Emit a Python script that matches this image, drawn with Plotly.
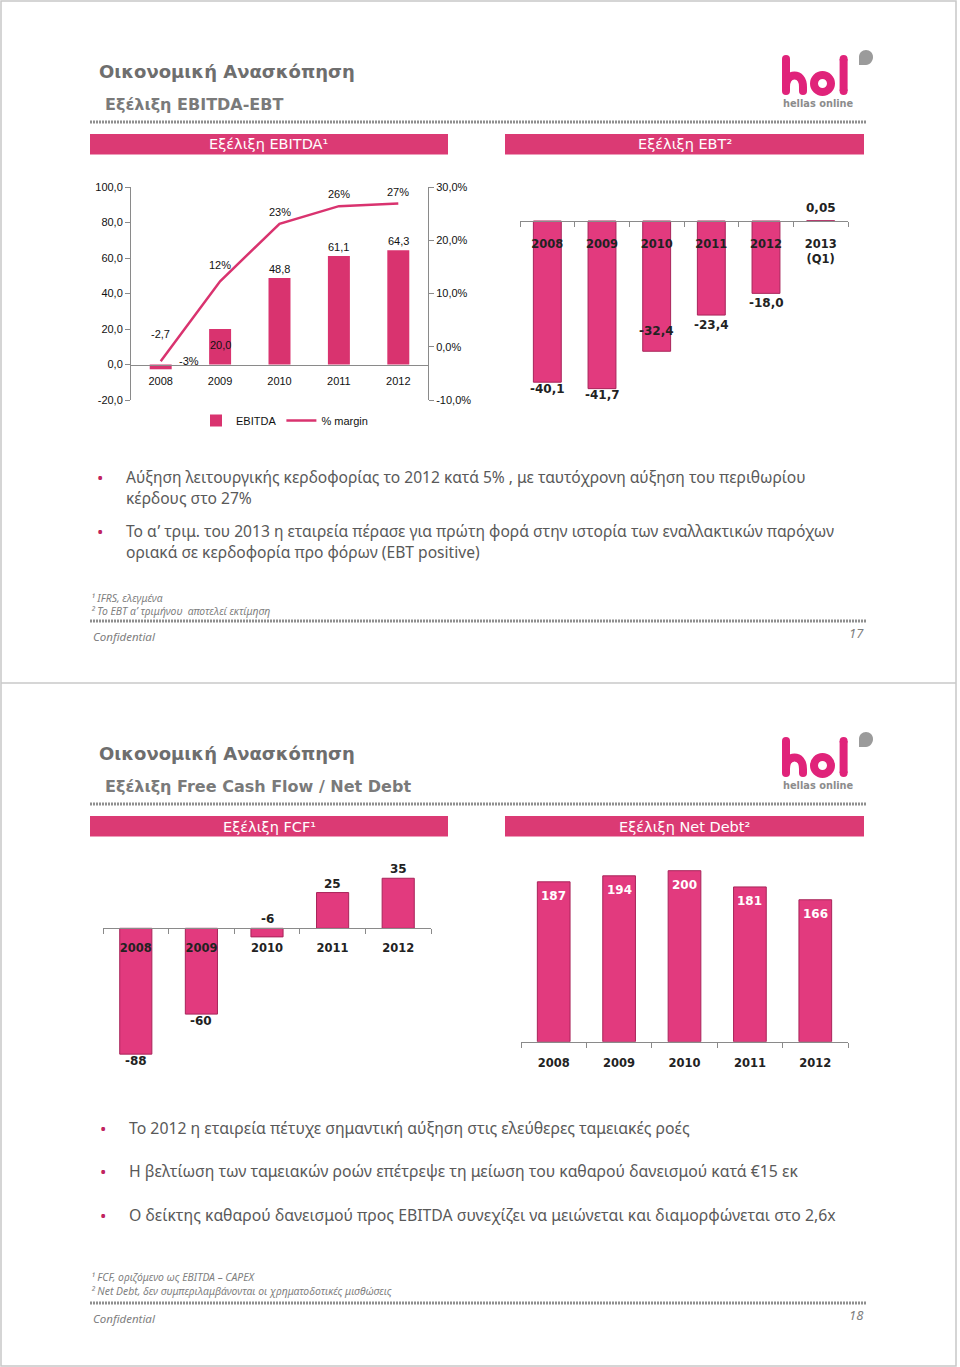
import plotly.graph_objects as go

W, H = 960, 1367
def X(px): return px / W
def Y(py): return 1 - py / H

# ---------------- data ----------------
years = ["2008", "2009", "2010", "2011", "2012"]
ebitda = [-2.7, 20.0, 48.8, 61.1, 64.3]
margin_pct = [-2.7, 12.3, 23.1, 26.4, 26.9]
ebt_cats = ["2008", "2009", "2010", "2011", "2012", "2013<br>(Q1)"]
ebt = [-40.1, -41.7, -32.4, -23.4, -18.0, 0.05]
fcf = [-88, -60, -6, 25, 35]
net_debt = [187, 194, 200, 181, 166]
ebitda_ticks = [-20, 0, 20, 40, 60, 80, 100]
margin_ticks = [-10, 0, 10, 20, 30]

# ---------------- styles ----------------
PINK = "#d9336f"
PINK3D = "#e23a7e"
PINKEDGE = "#a8245a"
GRAY = "#6e6e6e"
AXC = "#8a8a8a"
SANS = "Liberation Sans"
TAH = "DejaVu Sans"
BODY = "Noto Sans"

def c(v, nd=1):
    return f"{v:.{nd}f}".replace(".", ",")

fig = go.Figure()
ann = []
shapes = []

def txt(s, x, y, size, color, family, bold=False, italic=False, xanchor="left"):
    ann.append(dict(text=s, x=X(x), y=Y(y), xref="paper", yref="paper", showarrow=False,
                    xanchor=xanchor, yanchor="middle",
                    font=dict(size=size, color=color, family=family,
                              weight="bold" if bold else "normal",
                              style="italic" if italic else "normal")))

def zero_pos(dom, rng):
    return dom[0] + (0 - rng[0]) / (rng[1] - rng[0]) * (dom[1] - dom[0])

# ---------------- slide frames ----------------
shapes.append(dict(type="rect", xref="paper", yref="paper", x0=X(1), x1=X(956), y0=Y(1), y1=Y(1366),
                   line=dict(color="#c8c8c8", width=1.5), fillcolor="rgba(0,0,0,0)", layer="below"))
shapes.append(dict(type="line", xref="paper", yref="paper", x0=X(1), x1=X(956), y0=Y(683), y1=Y(683),
                   line=dict(color="#c8c8c8", width=1.5)))

def P(cmds):
    out = []
    for cmd, pts in cmds:
        out.append(cmd + " ".join(f"{X(a):.6f},{Y(b):.6f}" for a, b in pts))
    return " ".join(out)

def logo(dy):
    lc = "#e0237a"
    w = 8
    shapes.append(dict(type="path", xref="paper", yref="paper",
                       path=P([("M", [(786, 59 + dy)]), ("L", [(786, 91 + dy)])]), line=dict(color=lc, width=w)))
    shapes.append(dict(type="path", xref="paper", yref="paper",
                       path=P([("M", [(786, 87 + dy)]), ("C", [(786, 79 + dy), (790, 75.5 + dy), (794.5, 75.5 + dy)]),
                               ("C", [(799, 75.5 + dy), (803, 79 + dy), (803, 87 + dy)]), ("L", [(803, 91 + dy)])]),
                       line=dict(color=lc, width=w)))
    for (cx, cy) in [(786, 59), (786, 91), (803, 91), (843.6, 59), (843.6, 91)]:
        shapes.append(dict(type="circle", xref="paper", yref="paper", x0=X(cx - 4), x1=X(cx + 4),
                           y0=Y(cy + dy + 4), y1=Y(cy + dy - 4), fillcolor=lc, line=dict(width=0)))
    shapes.append(dict(type="circle", xref="paper", yref="paper", x0=X(822.5 - 8.5), x1=X(822.5 + 8.5),
                       y0=Y(83.5 + dy + 8.5), y1=Y(83.5 + dy - 8.5), line=dict(color=lc, width=w)))
    shapes.append(dict(type="path", xref="paper", yref="paper",
                       path=P([("M", [(843.6, 59 + dy)]), ("L", [(843.6, 91 + dy)])]), line=dict(color=lc, width=w)))
    shapes.append(dict(type="path", xref="paper", yref="paper",
                       path=P([("M", [(859, 65 + dy)]), ("L", [(859, 57 + dy)]),
                               ("C", [(859, 53 + dy), (862, 50 + dy), (866, 50 + dy)]),
                               ("C", [(870, 50 + dy), (873, 53 + dy), (873, 57 + dy)]),
                               ("C", [(873, 61 + dy), (870, 65 + dy), (866, 65 + dy)]), ("Z", [])]),
                       fillcolor="#9b9b9b", line=dict(width=0)))
    txt("hellas online", 818, 103.5 + dy, 9.8, "#8c8c8c", TAH, bold=True, xanchor="center")

def slide_frame(dy, title, subtitle, h1, h2, page, notes, notes_y):
    txt(title, 97, 72 + dy, 18, GRAY, TAH, bold=True)
    txt(subtitle, 103, 104 + dy, 16, "#7a7a7a", TAH, bold=True)
    for yy in (122 + dy, 621 + dy):
        shapes.append(dict(type="line", xref="paper", yref="paper", x0=X(90), x1=X(866), y0=Y(yy), y1=Y(yy),
                           line=dict(color="#8f8f8f", width=3, dash="2px,1px")))
    for (x0, x1, t) in [(90, 448, h1), (505, 864, h2)]:
        shapes.append(dict(type="rect", xref="paper", yref="paper", x0=X(x0), x1=X(x1), y0=Y(154.5 + dy),
                           y1=Y(134 + dy), fillcolor="#db3a74", line=dict(width=0)))
        txt(t, (x0 + x1) / 2, 144.5 + dy, 14.5, "white", TAH, xanchor="center")
    logo(dy)
    txt("Confidential", 91, 636 + dy, 11.5, "#808080", BODY, italic=True)
    txt(page, 866, 633 + dy, 13, "#808080", BODY, italic=True, xanchor="right")
    for n, yy in zip(notes, notes_y):
        txt(n, 89, yy, 10.4, "#808080", BODY, italic=True)

slide_frame(0, "Οικονομική Ανασκόπηση", "Εξέλιξη EBITDA-EBT", "Εξέλιξη EBITDA¹", "Εξέλιξη EBT²", "17",
            ["¹ IFRS, ελεγμένα", "² Το EBT α’ τριμήνου  αποτελεί εκτίμηση"], [598, 611])
slide_frame(682, "Οικονομική Ανασκόπηση", "Εξέλιξη Free Cash Flow / Net Debt", "Εξέλιξη FCF¹",
            "Εξέλιξη Net Debt²", "18",
            ["¹ FCF, οριζόμενο ως EBITDA – CAPEX", "² Net Debt, δεν συμπεριλαμβάνονται οι χρηματοδοτικές μισθώσεις"],
            [1277, 1291])

def bullet(lines, x_b, x_t, ys, size):
    txt("•", x_b, ys[0], 17, "#c0245f", BODY)
    for s, yy in zip(lines, ys):
        txt(s, x_t, yy, size, "#595959", BODY)

bullet(["Αύξηση λειτουργικής κερδοφορίας το 2012 κατά 5% , με ταυτόχρονη αύξηση του περιθωρίου",
        "κέρδους στο 27%"], 95, 124, [477, 498], 15.6)
bullet(["Το α’ τριμ. του 2013 η εταιρεία πέρασε για πρώτη φορά στην ιστορία των εναλλακτικών παρόχων",
        "οριακά σε κερδοφορία προ φόρων (EBT positive)"], 95, 124, [531, 552], 15.6)
bullet(["Το 2012 η εταιρεία πέτυχε σημαντική αύξηση στις ελεύθερες ταμειακές ροές"], 98, 127, [1128], 15.8)
bullet(["Η βελτίωση των ταμειακών ροών επέτρεψε τη μείωση του καθαρού δανεισμού κατά €15 εκ"], 98, 127, [1171], 15.8)
bullet(["Ο δείκτης καθαρού δανεισμού προς EBITDA συνεχίζει να μειώνεται και διαμορφώνεται στο 2,6x"], 98, 127, [1215], 15.8)

tickfont_plain = dict(size=11, color="#111", family=SANS)
tickfont_bold = dict(size=11.5, color="#222", family=TAH, weight="bold")

def cat_axis(dom, n, pos, font, standoff, boundary_ticks):
    ax = dict(domain=dom, anchor="free", position=pos, type="linear", range=[-0.5, n - 0.5],
              tickmode="array", tickvals=list(range(n)), showline=True, linecolor=AXC, linewidth=1,
              ticks="", tickfont=font, showgrid=False, zeroline=False, ticklabelstandoff=standoff,
              automargin=False, fixedrange=True)
    if boundary_ticks:
        ax["minor"] = dict(tickmode="array", tickvals=[i - 0.5 for i in range(n + 1)], ticks="outside",
                           ticklen=5, tickcolor=AXC, showgrid=False)
    return ax

# ---------------- chart 1: EBITDA ----------------
d1x = [X(131), X(428)]
d1y = [Y(400), Y(187)]
r1 = [-20, 100]
r1b = [-0.10, 0.30]
idx5 = list(range(len(years)))
fig.add_trace(go.Bar(x=idx5, y=ebitda, width=0.37, marker=dict(color=PINK, line=dict(width=0)),
                     name="EBITDA", xaxis="x", yaxis="y", showlegend=True))
fig.add_trace(go.Scatter(x=idx5, y=[v / 100 for v in margin_pct], mode="lines", line=dict(color=PINK, width=2.5),
                         name="% margin", xaxis="x", yaxis="y2", showlegend=True))
bar_shift = [35, -15.5, 9, 9, 9]
for i, (v, s) in enumerate(zip(ebitda, bar_shift)):
    ann.append(dict(text=c(v), x=i, y=v, xref="x", yref="y", showarrow=False, yshift=s, yanchor="middle",
                    font=dict(size=11, color="#111", family=SANS)))
m_yshift = [0, 16, 12, 12, 12]
m_xshift = [28, 0, 0, 0, 0]
for i, (v, s, sx) in enumerate(zip(margin_pct, m_yshift, m_xshift)):
    ann.append(dict(text=f"{v:.0f}%", x=i, y=v / 100, xref="x", yref="y2", showarrow=False, yshift=s, xshift=sx,
                    yanchor="middle", font=dict(size=11, color="#111", family=SANS)))

xa1 = cat_axis(d1x, len(years), zero_pos(d1y, r1), tickfont_plain, 6, False)
xa1["ticktext"] = years
layout_axes = dict(
    xaxis=xa1,
    yaxis=dict(domain=d1y, range=r1, tickmode="array", tickvals=ebitda_ticks,
               ticktext=[c(t) for t in ebitda_ticks], showline=True, linecolor=AXC, ticks="outside",
               ticklen=5, tickcolor=AXC, showgrid=False, zeroline=False, tickfont=tickfont_plain, anchor="x",
               automargin=False, fixedrange=True),
    yaxis2=dict(domain=d1y, range=r1b, tickmode="array", tickvals=[t / 100 for t in margin_ticks],
                ticktext=[c(t) + "%" for t in margin_ticks], overlaying="y", side="right", showline=True,
                linecolor=AXC, ticks="outside", ticklen=5, tickcolor=AXC, showgrid=False, zeroline=False,
                tickfont=tickfont_plain, anchor="x", automargin=False, fixedrange=True),
)

# ---------------- chart 2: EBT ----------------
d2x = [X(520), X(848)]
r2 = [-45, 8]
d2y = [Y(221 + 45 * 4.02), Y(221 - 8 * 4.02)]
idx6 = list(range(len(ebt_cats)))
fig.add_trace(go.Bar(x=idx6, y=ebt, width=0.51, marker=dict(color=PINK3D, line=dict(color=PINKEDGE, width=1)),
                     xaxis="x2", yaxis="y3", showlegend=False))
ebt_shift = [-7, -6, 20, -10, -10, 13]
for i, (v, s) in enumerate(zip(ebt, ebt_shift)):
    ann.append(dict(text=c(v, 2 if abs(v) < 1 else 1), x=i, y=v, xref="x2", yref="y3", showarrow=False,
                    yshift=s, yanchor="middle", font=dict(size=12, color="#222", family=TAH, weight="bold")))
xa2 = cat_axis(d2x, len(ebt_cats), zero_pos(d2y, r2), tickfont_bold, 12, True)
xa2["ticktext"] = ebt_cats
layout_axes.update(xaxis2=xa2, yaxis3=dict(domain=d2y, range=r2, visible=False, anchor="x2", fixedrange=True))

# ---------------- chart 3: FCF ----------------
d3x = [X(103), X(431)]
r3 = [-95, 45]
d3y = [Y(928.3 + 95 * 1.43), Y(928.3 - 45 * 1.43)]
fig.add_trace(go.Bar(x=idx5, y=fcf, width=0.49, marker=dict(color=PINK3D, line=dict(color=PINKEDGE, width=1)),
                     xaxis="x3", yaxis="y4", showlegend=False))
fcf_shift = [-7, -7, 18, 9, 9]
for i, (v, s) in enumerate(zip(fcf, fcf_shift)):
    ann.append(dict(text=f"{v}", x=i, y=v, xref="x3", yref="y4", showarrow=False, yshift=s, yanchor="middle",
                    font=dict(size=12, color="#222", family=TAH, weight="bold")))
xa3 = cat_axis(d3x, len(years), zero_pos(d3y, r3), tickfont_bold, 9, True)
xa3["ticktext"] = years
layout_axes.update(xaxis3=xa3, yaxis4=dict(domain=d3y, range=r3, visible=False, anchor="x3", fixedrange=True))

# ---------------- chart 4: Net Debt ----------------
d4x = [X(521), X(848)]
r4 = [0, 225]
d4y = [Y(1041.7), Y(1041.7 - 225 * 0.855)]
fig.add_trace(go.Bar(x=idx5, y=net_debt, width=0.5, marker=dict(color=PINK3D, line=dict(color=PINKEDGE, width=1)),
                     xaxis="x4", yaxis="y5", showlegend=False))
for i, v in enumerate(net_debt):
    ann.append(dict(text=f"{v}", x=i, y=v, xref="x4", yref="y5", showarrow=False, yshift=-14, yanchor="middle",
                    font=dict(size=12, color="white", family=TAH, weight="bold")))
xa4 = cat_axis(d4x, len(years), zero_pos(d4y, r4), tickfont_bold, 10, True)
xa4["ticktext"] = years
layout_axes.update(xaxis4=xa4, yaxis5=dict(domain=d4y, range=r4, visible=False, anchor="x4", fixedrange=True))

fig.update_layout(
    template="none",
    width=W, height=H, autosize=False,
    margin=dict(l=0, r=0, t=0, b=0, pad=0),
    paper_bgcolor="white", plot_bgcolor="rgba(0,0,0,0)",
    separators=",.",
    showlegend=True,
    legend=dict(orientation="h", x=X(196), y=Y(406), xanchor="left", yanchor="top",
                font=dict(size=11, color="#111", family=SANS), bgcolor="rgba(0,0,0,0)", itemwidth=30,
                traceorder="normal"),
    annotations=ann, shapes=shapes,
    **layout_axes,
)

fig.write_html("out.html", config={"displayModeBar": False},
               post_script="document.body.style.margin='0';document.body.style.overflow='hidden';")
